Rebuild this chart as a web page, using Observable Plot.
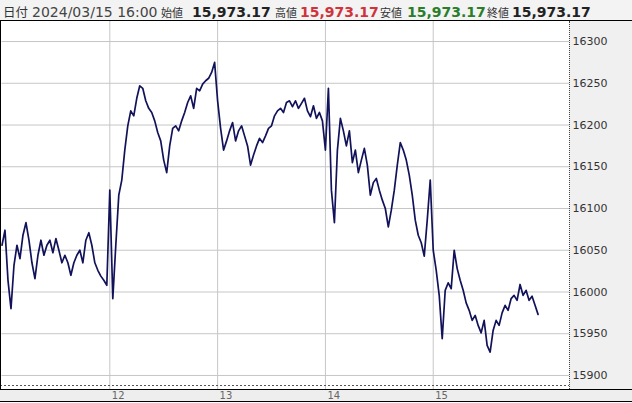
<!DOCTYPE html>
<html><head><meta charset="utf-8">
<script src="https://cdn.jsdelivr.net/npm/d3@7"></script>
<script src="https://cdn.jsdelivr.net/npm/@observablehq/plot@0.6"></script>
<style>
html,body{margin:0;padding:0;background:#fff;}
#wrap{position:relative;width:632px;height:403px;overflow:hidden;font-family:"DejaVu Sans",sans-serif;}
#wrap > div{position:absolute;}
#hdr{left:0;top:0;width:632px;height:20px;background:#f3f3f3;border-bottom:1px solid #000;}
.h{position:absolute;top:2px;line-height:20px;white-space:nowrap;}
.lab{font-family:"Noto Sans CJK JP",sans-serif;font-size:11px;color:#333;}
.val{font-family:"DejaVu Sans",sans-serif;font-weight:bold;font-size:14px;color:#222;}
#chart{left:0;top:0;z-index:2;}
</style></head>
<body>
<div id="wrap">
  <div id="hdr">
    <span class="h" style="left:3px;font-family:'Noto Sans CJK JP';font-size:12.5px;color:#333;">日付</span>
    <span class="h" id="dt" style="left:32px;font-size:14px;color:#444;"></span>
    <span class="h lab" style="left:161px;">始値</span>
    <span class="h val" id="o" style="left:192px;"></span>
    <span class="h lab" style="left:275px;">高値</span>
    <span class="h val" id="hi" style="left:300px;color:#d0343a;"></span>
    <span class="h lab" style="left:380px;">安値</span>
    <span class="h val" id="lo" style="left:407px;color:#2a7d2a;"></span>
    <span class="h lab" style="left:487px;">終値</span>
    <span class="h val" id="cl" style="left:512px;"></span>
  </div>
  <div style="left:569px;top:21px;width:63px;height:368px;background:#f0f0f0;"></div>
  <div style="left:569px;top:21px;width:0;height:368px;border-left:1px dotted #444;z-index:3;"></div>
  <div style="left:0;top:385px;width:569px;height:1px;background:repeating-linear-gradient(to right,#555 0 2px,transparent 2px 4px);z-index:3;"></div>
  <div style="left:0;top:389px;width:632px;height:11px;background:#eeeeee;border-top:1px solid #000;border-bottom:1px solid #000;"></div>
  <div style="left:0;top:20px;width:1px;height:369px;background:#000;z-index:3;"></div>
  <div id="chart"></div>
</div>
<script>
// header readout
const headerDate = "2024/03/15 16:00";
const ohlc = {open: 15973.17, high: 15973.17, low: 15973.17, close: 15973.17};

// tick values
const yTicks = [15900, 15950, 16000, 16050, 16100, 16150, 16200, 16250, 16300];
const dayTicks = [12, 13, 14, 15];
const days = [11, 12, 13, 14, 15];

// price path per session
const day11 = [16056,16074,16014,15980,16032,16056,16040,16068,16083,16062,16035,16016,16044,16062,16044,16056,16062,16047,16064,16050,16035,16044,16035,16020,16035,16044,16050,16035,16062,16071,16056,16035,16026,16019,16014,16008];
const day12 = [16122,15992,16056,16116,16134,16170,16199,16217,16211,16232,16247,16244,16229,16220,16215,16205,16191,16181,16158,16143,16175,16196,16199,16193,16205,16215,16227,16235,16220,16244,16241,16249,16253,16256,16263,16275];
const day13 = [16229,16196,16170,16181,16193,16203,16181,16193,16199,16187,16175,16152,16164,16175,16184,16179,16187,16196,16199,16211,16217,16220,16215,16227,16229,16222,16229,16220,16226,16232,16217,16210,16223,16208,16215,16205];
const day14 = [16170,16244,16122,16083,16170,16208,16193,16175,16193,16155,16170,16143,16158,16172,16152,16116,16131,16136,16122,16110,16100,16078,16098,16122,16152,16179,16170,16158,16140,16116,16086,16068,16059,16043,16086,16134];
const day15 = [16050,16026,15996,15944,16002,16011,16004,16050,16028,16014,16002,15987,15978,15966,15972,15960,15951,15966,15936,15928,15954,15966,15960,15975,15984,15978,15992,15996,15990,16009,15996,16002,15990,15995,15984,15973.17];

const fmt = d3.format(",.2f");
document.getElementById("dt").textContent = headerDate;
document.getElementById("o").textContent = fmt(ohlc.open);
document.getElementById("hi").textContent = fmt(ohlc.high);
document.getElementById("lo").textContent = fmt(ohlc.low);
document.getElementById("cl").textContent = fmt(ohlc.close);

const sessions = [day11, day12, day13, day14, day15];
const rows = sessions.flatMap((vals, d) => vals.map((v, i) => ({t: days[d] + i / vals.length, v})));

const chart = Plot.plot({
  width: 632, height: 403,
  marginTop: 21, marginBottom: 14, marginLeft: 1.5, marginRight: 63,
  style: {background: "transparent", fontFamily: "DejaVu Sans", overflow: "visible"},
  x: {domain: [11, 16.264], label: null},
  y: {domain: [15883.2, 16324], label: null},
  marks: [
    Plot.ruleY(yTicks, {stroke: "#c6c6c6", strokeOpacity: 1}),
    Plot.ruleX(dayTicks, {stroke: "#c6c6c6", strokeOpacity: 1}),
    Plot.line(rows, {x: "t", y: "v", stroke: "#12125a", strokeWidth: 1.7}),
    Plot.axisY(yTicks, {anchor: "right", tickSize: 0, tickPadding: 3, fontSize: 11, fill: "#333", tickFormat: d => String(d), label: null}),
    Plot.axisX(dayTicks, {anchor: "bottom", tickSize: 0, tickPadding: 2, fontSize: 10, fill: "#666", textAnchor: "start", dx: 2, tickFormat: d => String(d), label: null})
  ]
});
document.getElementById("chart").appendChild(chart);
</script>
</body></html>
